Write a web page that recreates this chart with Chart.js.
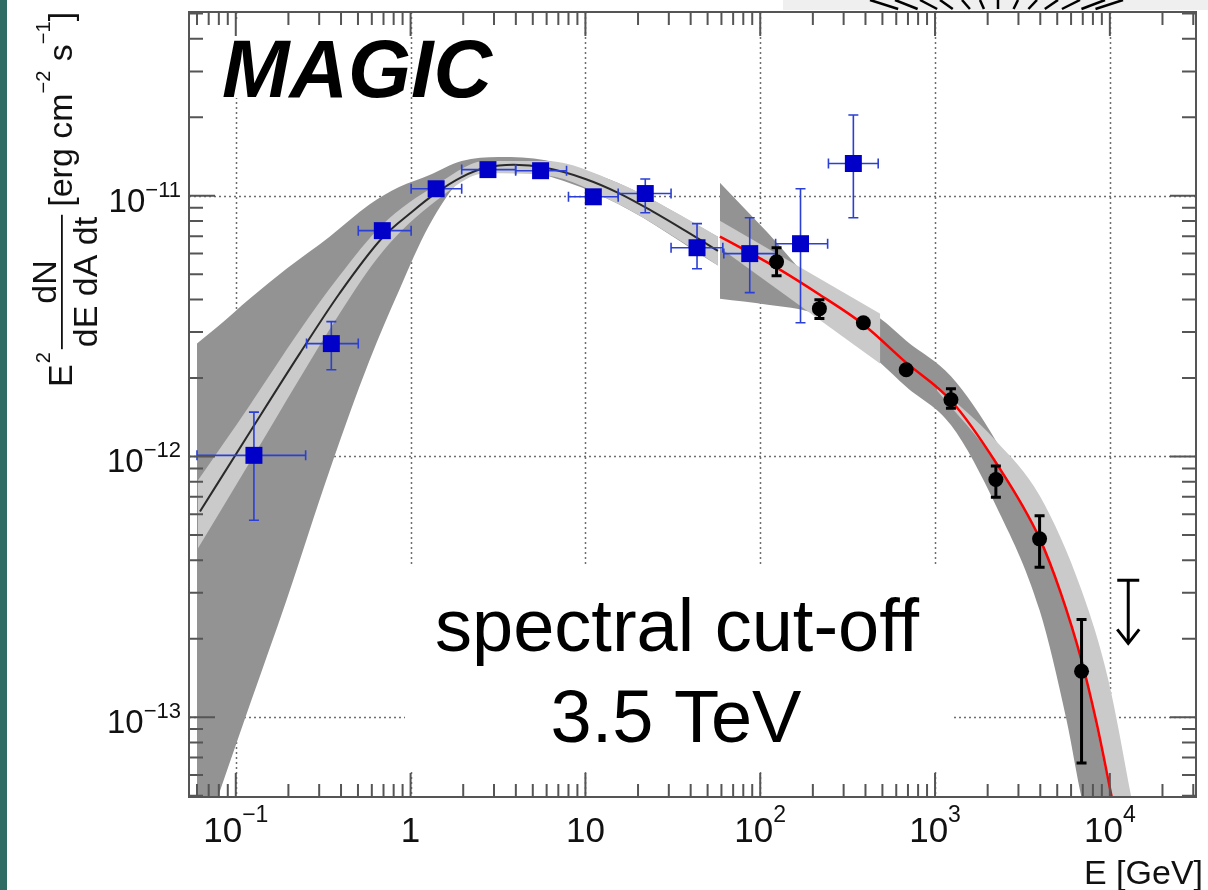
<!DOCTYPE html>
<html><head><meta charset="utf-8">
<script src="https://cdn.jsdelivr.net/npm/chart.js@4.4.1/dist/chart.umd.min.js"></script>
<style>html,body{margin:0;padding:0;background:#fff;overflow:hidden}canvas{display:block}</style>
</head><body>
<canvas id="c" width="1208" height="890"></canvas>
<script>
// ---------------- axis ranges & tick decades ----------------
const X_MIN = 0.054, X_MAX = 31100;
const Y_MIN = 4.94e-14, Y_MAX = 5.07e-11;
const X_LABEL_EXP = [-1, 0, 1, 2, 3, 4];
const Y_LABEL_EXP = [-13, -12, -11];
const X_GRID = [0.1, 1, 10, 100, 1000, 10000];
const Y_GRID = [1e-13, 1e-12, 1e-11];

// ---------------- Fermi-LAT points (blue squares) ----------------
const fermiE    = [0.127, 0.352, 0.689, 1.40, 2.77, 5.54, 11.1, 22.0, 43.5, 87.1, 170, 341];
const fermiF    = [1.01e-12, 2.71e-12, 7.35e-12, 1.064e-11, 1.26e-11, 1.248e-11, 9.91e-12, 1.02e-11, 6.32e-12, 6.0e-12, 6.55e-12, 1.33e-11];
const fermiElo  = [0.060, 0.254, 0.502, 1.007, 1.96, 3.99, 8.0, 15.4, 30.9, 61.9, 122.5, 245.6];
const fermiEhi  = [0.251, 0.502, 1.007, 1.96, 3.99, 7.80, 15.4, 30.9, 61.1, 122.5, 243, 473];
const fermiFlo  = [5.69e-13, 2.15e-12, 7.35e-12, 1.064e-11, 1.26e-11, 1.248e-11, 9.91e-12, 8.61e-12, 5.25e-12, 4.25e-12, 3.26e-12, 8.24e-12];
const fermiFhi  = [1.48e-12, 3.29e-12, 7.35e-12, 1.064e-11, 1.26e-11, 1.248e-11, 9.91e-12, 1.16e-11, 7.82e-12, 8.24e-12, 1.064e-11, 2.04e-11];

// ---------------- MAGIC points (black circles) ----------------
const magicE   = [124, 218, 389, 684, 1233, 2228, 3963, 6887];
const magicF   = [5.58e-12, 3.69e-12, 3.26e-12, 2.15e-12, 1.65e-12, 8.16e-13, 4.83e-13, 1.50e-13];
const magicFlo = [4.93e-12, 3.38e-12, 3.26e-12, 2.15e-12, 1.53e-12, 6.97e-13, 3.76e-13, 6.67e-14];
const magicFhi = [6.32e-12, 3.99e-12, 3.26e-12, 2.15e-12, 1.82e-12, 9.20e-13, 5.92e-13, 2.37e-13];
// upper limit
const ulE = 12740, ulF = 3.35e-13, ulArrowTo = 1.92e-13;

// ---------------- fitted curves ----------------
const fermiCurveE = [0.0624, 0.120, 0.232, 0.392, 0.689, 1.02, 1.40, 1.96, 2.69, 3.89, 5.92, 10, 15.4, 23.8, 37.2, 57.3];
const fermiCurveF = [6.15e-13, 1.236e-12, 2.48e-12, 4.22e-12, 6.90e-12, 8.69e-12, 1.026e-11, 1.18e-11, 1.28e-11, 1.315e-11, 1.28e-11, 1.16e-11, 1.026e-11, 8.77e-12, 7.35e-12, 6.15e-12];
const magicCurveE = [58.8, 87.1, 124, 218, 389, 684, 1233, 2228, 3963, 5224, 6887, 8375, 10330];
const magicCurveF = [6.97e-12, 6.05e-12, 5.30e-12, 4.18e-12, 3.21e-12, 2.29e-12, 1.64e-12, 9.48e-13, 4.85e-13, 3.01e-13, 1.65e-13, 9.57e-14, 4.81e-14];

// ---------------- uncertainty bands ----------------
const fermiDarkE  = [0.0600, 0.0789, 0.120, 0.195, 0.344, 0.581, 0.859, 1.274, 1.96, 3.19, 5.92, 15.4, 57.3];
const fermiDarkHi = [2.71e-12, 3.15e-12, 4.03e-12, 5.25e-12, 6.97e-12, 9.25e-12, 1.08e-11, 1.20e-11, 1.36e-11, 1.41e-11, 1.37e-11, 1.12e-11, 6.97e-12];
const fermiDarkLo = [2.91e-14, 4.93e-14, 1.11e-13, 2.81e-13, 8.83e-13, 2.33e-12, 4.33e-12, 7.67e-12, 1.16e-11, 1.29e-11, 1.20e-11, 9.31e-12, 5.40e-12];
const fermiLightE  = [0.0607, 0.120, 0.232, 0.392, 0.689, 1.40, 2.69, 5.92, 15.4, 37.2, 57.3];
const fermiLightHi = [8.09e-13, 1.57e-12, 3.04e-12, 4.93e-12, 7.74e-12, 1.10e-11, 1.36e-11, 1.36e-11, 1.12e-11, 8.24e-12, 6.97e-12];
const fermiLightLo = [4.44e-13, 9.48e-13, 1.99e-12, 3.53e-12, 6.09e-12, 9.57e-12, 1.22e-11, 1.20e-11, 9.31e-12, 6.55e-12, 5.40e-12];
const magicDarkE  = [58.8, 110.4, 204.6, 315, 486, 684, 1233, 2228, 3963, 5650, 6887, 9800, 11640];
const magicDarkHi = [1.122e-11, 7.21e-12, 4.64e-12, 4.03e-12, 3.38e-12, 2.78e-12, 2.03e-12, 1.15e-12, 5.44e-13, 2.69e-13, 1.81e-13, 6.27e-14, 3.38e-14];
const magicDarkLo = [4.03e-12, 3.82e-12, 3.53e-12, 2.96e-12, 2.29e-12, 1.85e-12, 1.32e-12, 6.49e-13, 2.57e-13, 9.75e-14, 4.93e-14, 1.99e-14, 1.0e-14];
const magicBowE  = [58.8, 486];
const magicBowHi = [8.02e-12, 3.53e-12];
const magicBowLo = [6.32e-12, 2.27e-12];
const magicTailE  = [1026, 2228, 3963, 6887, 9800, 13270, 15100];
const magicTailHi = [1.87e-12, 1.15e-12, 7.09e-13, 3.07e-13, 1.39e-13, 4.93e-14, 3.09e-14];
const magicTailLo = [1.79e-12, 9.48e-13, 4.85e-13, 1.65e-13, 5.58e-14, 2.59e-14, 2.0e-14];

// ---------------- styling ----------------
const FONT = '"Liberation Sans", Arial, Helvetica, sans-serif';
const DARK = '#939393', LIGHT = '#cacaca';
const pts = (xs, ys) => xs.map((v, i) => ({x: v, y: ys[i]}));

function band(xs, hi, lo, color, order, smooth) {
  const interp = smooth ? {cubicInterpolationMode: 'monotone'} : {tension: 0};
  return [
    {data: pts(xs, hi), fill: '+1', backgroundColor: color, borderWidth: 0, pointRadius: 0, order, ...interp},
    {data: pts(xs, lo), fill: false, borderWidth: 0, pointRadius: 0, order, ...interp}
  ];
}

const datasets = [
  ...band(fermiDarkE, fermiDarkHi, fermiDarkLo, DARK, 100, true),     // 0,1
  ...band(fermiLightE, fermiLightHi, fermiLightLo, LIGHT, 90, true),  // 2,3
  ...band(magicDarkE, magicDarkHi, magicDarkLo, DARK, 80, true),      // 4,5
  ...band(magicBowE, magicBowHi, magicBowLo, LIGHT, 70, false),       // 6,7
  ...band(magicTailE, magicTailHi, magicTailLo, LIGHT, 70, true),     // 8,9
  {data: pts(fermiCurveE, fermiCurveF), borderColor: '#2a2a2a', borderWidth: 2, pointRadius: 0, cubicInterpolationMode: 'monotone', fill: false, order: 50}, // 10
  {data: pts(magicCurveE, magicCurveF), borderColor: '#ff0000', borderWidth: 2.5, pointRadius: 0, cubicInterpolationMode: 'monotone', fill: false, order: 40}, // 11
  {data: pts(fermiE, fermiF), showLine: false, pointStyle: 'rect', pointRadius: 12, pointBackgroundColor: '#0000c8', pointBorderWidth: 0, order: 30}, // 12
  {data: pts(magicE, magicF), showLine: false, pointStyle: 'circle', pointRadius: 7.5, pointBackgroundColor: '#000', pointBorderWidth: 0, order: 20} // 13
];

function clipArea(c, a) { c.beginPath(); c.rect(a.left, a.top, a.right - a.left, a.bottom - a.top); c.clip(); }

function powLabel(c, k, x, y, fs, sfs, raise, align) {
  let main = '10', sup = '';
  if (k === 0) main = '1'; else if (k !== 1) sup = (k < 0 ? '\u2212' : '') + Math.abs(k);
  c.font = fs + 'px ' + FONT; const wm = c.measureText(main).width;
  c.font = sfs + 'px ' + FONT; const ws = sup ? c.measureText(sup).width : 0;
  const x0 = align === 'center' ? x - (wm + ws) / 2 : x - (wm + ws);
  c.textAlign = 'left'; c.textBaseline = 'alphabetic';
  c.font = fs + 'px ' + FONT; c.fillText(main, x0, y);
  if (sup) { c.font = sfs + 'px ' + FONT; c.fillText(sup, x0 + wm, y - raise); }
}

const deco = {
  id: 'deco',
  beforeDraw(chart) {
    const c = chart.ctx;
    c.save();
    c.fillStyle = '#fff'; c.fillRect(0, 0, chart.width, chart.height);
    c.fillStyle = '#2f6c63'; c.fillRect(0, 0, 7, chart.height);
    c.restore();
  },
  beforeDatasetsDraw(chart) {
    const {ctx: c, chartArea: a, scales: {x, y}} = chart;
    c.save(); clipArea(c, a);
    c.strokeStyle = '#6e6e6e'; c.lineWidth = 1.5; c.setLineDash([2, 3]);
    X_GRID.forEach(v => { const p = Math.round(x.getPixelForValue(v)) + 0.5; c.beginPath(); c.moveTo(p, a.top); c.lineTo(p, a.bottom); c.stroke(); });
    Y_GRID.forEach(v => { const p = Math.round(y.getPixelForValue(v)) + 0.5; c.beginPath(); c.moveTo(a.left, p); c.lineTo(a.right, p); c.stroke(); });
    c.setLineDash([]);
    c.fillStyle = '#fff';
    c.fillRect(200, 22, 195, 76);
    c.fillRect(405, 565, 547, 205);
    c.restore();
  },
  beforeDatasetDraw(chart, args) {
    const {ctx: c, chartArea: a, scales: {x, y}} = chart;
    if (args.index === 12) {
      c.save(); clipArea(c, a);
      c.strokeStyle = '#2b3fd4'; c.lineWidth = 1.6;
      fermiE.forEach((e, i) => {
        const px = x.getPixelForValue(e), py = y.getPixelForValue(fermiF[i]);
        const x1 = x.getPixelForValue(fermiElo[i]), x2 = x.getPixelForValue(fermiEhi[i]);
        const y1 = y.getPixelForValue(fermiFhi[i]), y2 = y.getPixelForValue(fermiFlo[i]);
        c.beginPath();
        c.moveTo(x1, py); c.lineTo(x2, py);
        c.moveTo(x1, py - 5); c.lineTo(x1, py + 5);
        c.moveTo(x2, py - 5); c.lineTo(x2, py + 5);
        if (y2 - y1 > 2) {
          c.moveTo(px, y1); c.lineTo(px, y2);
          c.moveTo(px - 5, y1); c.lineTo(px + 5, y1);
          c.moveTo(px - 5, y2); c.lineTo(px + 5, y2);
        }
        c.stroke();
      });
      c.restore();
    }
    if (args.index === 13) {
      c.save(); clipArea(c, a);
      c.strokeStyle = '#000'; c.lineWidth = 3;
      magicE.forEach((e, i) => {
        const px = x.getPixelForValue(e);
        const y1 = y.getPixelForValue(magicFhi[i]), y2 = y.getPixelForValue(magicFlo[i]);
        if (y2 - y1 < 2) return;
        c.beginPath();
        c.moveTo(px, y1); c.lineTo(px, y2);
        c.moveTo(px - 5, y1); c.lineTo(px + 5, y1);
        c.moveTo(px - 5, y2); c.lineTo(px + 5, y2);
        c.stroke();
      });
      // upper limit arrow
      const ux = x.getPixelForValue(ulE), uy = y.getPixelForValue(ulF), ut = y.getPixelForValue(ulArrowTo);
      c.beginPath();
      c.moveTo(ux - 11, uy); c.lineTo(ux + 11, uy);
      c.moveTo(ux, uy); c.lineTo(ux, ut);
      c.moveTo(ux - 11, ut - 14); c.lineTo(ux, ut); c.lineTo(ux + 11, ut - 14);
      c.stroke();
      c.restore();
    }
  },
  afterDatasetsDraw(chart) {
    const c = chart.ctx;
    c.save();
    c.fillStyle = '#000'; c.textBaseline = 'alphabetic';
    c.font = 'italic bold 81px ' + FONT; c.textAlign = 'left';
    c.fillText('MAGIC', 222, 97);
    c.font = '74px ' + FONT; c.textAlign = 'center';
    c.fillText('spectral cut-off', 677, 651);
    c.fillText('3.5 TeV', 676, 742);
    c.restore();
  },
  afterDraw(chart) {
    const {ctx: c, chartArea: a, scales: {x, y}} = chart;
    c.save();
    // ticks (inside, all four sides)
    c.strokeStyle = '#555'; c.lineWidth = 2;
    c.beginPath();
    for (let k = -2; k <= 4; k++) for (let m = 1; m <= 9; m++) {
      const v = m * Math.pow(10, k);
      if (v <= X_MIN || v >= X_MAX) continue;
      const p = x.getPixelForValue(v), L = m === 1 ? 24 : 13;
      c.moveTo(p, a.bottom); c.lineTo(p, a.bottom - L);
      c.moveTo(p, a.top); c.lineTo(p, a.top + L);
    }
    for (let k = -14; k <= -10; k++) for (let m = 1; m <= 9; m++) {
      const v = m * Math.pow(10, k);
      if (v <= Y_MIN || v >= Y_MAX) continue;
      const p = y.getPixelForValue(v), L = m === 1 ? 26 : 14;
      c.moveTo(a.left, p); c.lineTo(a.left + L, p);
      c.moveTo(a.right, p); c.lineTo(a.right - L, p);
    }
    c.stroke();
    c.strokeRect(a.left, a.top, a.right - a.left, a.bottom - a.top);
    // tick labels
    c.fillStyle = '#111';
    X_LABEL_EXP.forEach(k => powLabel(c, k, x.getPixelForValue(Math.pow(10, k)), 842, 35, 23, 20, 'center'));
    Y_LABEL_EXP.forEach(k => powLabel(c, k, 181, y.getPixelForValue(Math.pow(10, k)) + 16, 33, 22, 15, 'right'));
    // x title
    c.font = '34px ' + FONT; c.textAlign = 'right'; c.fillStyle = '#111';
    c.fillText('E [GeV]', 1203, 884);
    // y title (rotated, reading bottom to top)
    c.rotate(-Math.PI / 2);
    const fs = 34, sfs = 20, base = 72, raise = 22;
    let u = -387;
    c.textAlign = 'left';
    c.font = fs + 'px ' + FONT; c.fillText('E', u, base); u += c.measureText('E').width + 1;
    c.font = sfs + 'px ' + FONT; c.fillText('2', u, base - raise); u += c.measureText('2').width + 3;
    c.font = fs + 'px ' + FONT;
    const wn = c.measureText('dN').width, wd = c.measureText('dE dA dt').width, w = Math.max(wn, wd) + 4;
    c.fillText('dN', u + (w - wn) / 2, 56);
    c.fillText('dE dA dt', u + (w - wd) / 2, 97);
    c.fillRect(u, 61, w, 1.8);
    u += w + 8;
    const parts = [['[erg cm', false], ['\u22122', true], [' s', false], ['\u22121', true], [']', false]];
    parts.forEach(([t, s]) => {
      c.font = (s ? sfs : fs) + 'px ' + FONT;
      c.fillText(t, u, s ? base - raise : base);
      u += c.measureText(t).width;
    });
    c.setTransform(1, 0, 0, 1, 0, 0);
    // top-right decoration
    c.fillStyle = '#efefef'; c.fillRect(783, 0, 425, 10);
    c.strokeStyle = '#000'; c.lineWidth = 2.5;
    [870, 895, 920, 940, 962, 980, 998, 1018, 1037, 1058, 1080, 1105, 1123].forEach(xt => {
      c.beginPath(); c.moveTo(xt, 0); c.lineTo(xt + (998 - xt) * 0.22, 9); c.stroke();
    });
    c.restore();
  }
};

new Chart(document.getElementById('c'), {
  type: 'line',
  data: {datasets},
  options: {
    responsive: false, animation: false, events: [],
    layout: {padding: {top: 11, right: 8, left: 0, bottom: 0}},
    plugins: {legend: {display: false}, tooltip: {enabled: false}},
    scales: {
      x: {type: 'logarithmic', min: X_MIN, max: X_MAX, grid: {display: false}, border: {display: false}, ticks: {display: false},
          afterFit: s => { s.height = 93; }},
      y: {type: 'logarithmic', min: Y_MIN, max: Y_MAX, grid: {display: false}, border: {display: false}, ticks: {display: false},
          afterFit: s => { s.width = 189; }}
    }
  },
  plugins: [deco]
});
</script></body></html>
